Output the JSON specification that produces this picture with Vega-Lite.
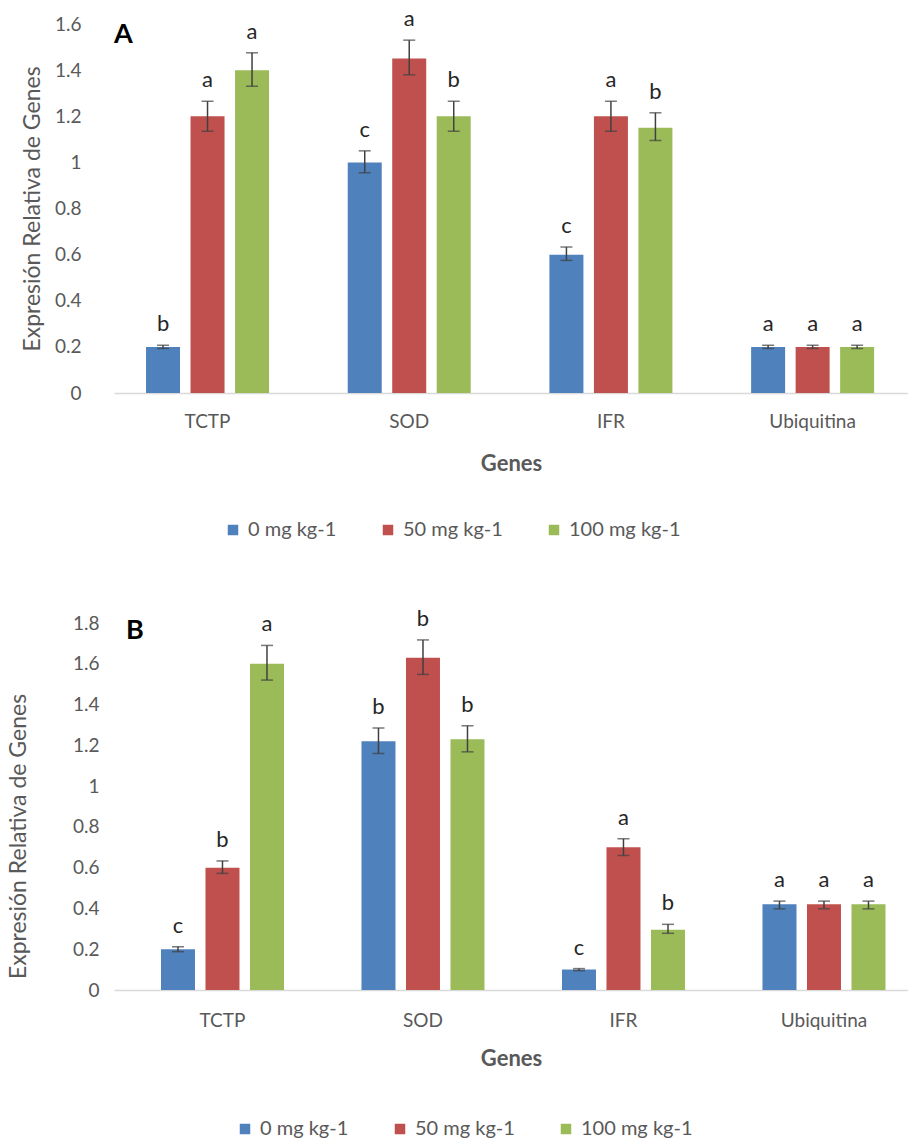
{
  "$schema": "https://vega.github.io/schema/vega-lite/v6.json",
  "padding": {"left": 7, "top": 8, "right": 0, "bottom": 0},
  "background": "white",
  "config": {
    "font": "Lato",
    "view": {"stroke": null},
    "axis": {"grid": false, "ticks": false, "tickSize": 0, "labelColor": "#595959", "titleColor": "#595959", "labelFont": "Lato", "titleFont": "Lato"},
    "title": {"font": "Lato", "color": "#000000", "fontWeight": "bold", "fontSize": 27, "anchor": "start", "frame": "group", "baseline": "alphabetic"}
  },
  "datasets": {
    "A": [
      {"gene": "TCTP", "dose": "0 mg kg-1", "value": 0.20, "lo": 0.193, "hi": 0.207, "letter": "b"},
      {"gene": "TCTP", "dose": "50 mg kg-1", "value": 1.20, "lo": 1.135, "hi": 1.265, "letter": "a"},
      {"gene": "TCTP", "dose": "100 mg kg-1", "value": 1.40, "lo": 1.33, "hi": 1.475, "letter": "a"},
      {"gene": "SOD", "dose": "0 mg kg-1", "value": 1.00, "lo": 0.955, "hi": 1.05, "letter": "c"},
      {"gene": "SOD", "dose": "50 mg kg-1", "value": 1.45, "lo": 1.38, "hi": 1.53, "letter": "a"},
      {"gene": "SOD", "dose": "100 mg kg-1", "value": 1.20, "lo": 1.135, "hi": 1.265, "letter": "b"},
      {"gene": "IFR", "dose": "0 mg kg-1", "value": 0.60, "lo": 0.575, "hi": 0.633, "letter": "c"},
      {"gene": "IFR", "dose": "50 mg kg-1", "value": 1.20, "lo": 1.135, "hi": 1.265, "letter": "a"},
      {"gene": "IFR", "dose": "100 mg kg-1", "value": 1.15, "lo": 1.095, "hi": 1.215, "letter": "b"},
      {"gene": "Ubiquitina", "dose": "0 mg kg-1", "value": 0.20, "lo": 0.193, "hi": 0.207, "letter": "a"},
      {"gene": "Ubiquitina", "dose": "50 mg kg-1", "value": 0.20, "lo": 0.193, "hi": 0.207, "letter": "a"},
      {"gene": "Ubiquitina", "dose": "100 mg kg-1", "value": 0.20, "lo": 0.193, "hi": 0.207, "letter": "a"}
    ],
    "B": [
      {"gene": "TCTP", "dose": "0 mg kg-1", "value": 0.20, "lo": 0.188, "hi": 0.212, "letter": "c"},
      {"gene": "TCTP", "dose": "50 mg kg-1", "value": 0.60, "lo": 0.572, "hi": 0.633, "letter": "b"},
      {"gene": "TCTP", "dose": "100 mg kg-1", "value": 1.60, "lo": 1.52, "hi": 1.69, "letter": "a"},
      {"gene": "SOD", "dose": "0 mg kg-1", "value": 1.22, "lo": 1.16, "hi": 1.285, "letter": "b"},
      {"gene": "SOD", "dose": "50 mg kg-1", "value": 1.63, "lo": 1.548, "hi": 1.717, "letter": "b"},
      {"gene": "SOD", "dose": "100 mg kg-1", "value": 1.23, "lo": 1.168, "hi": 1.296, "letter": "b"},
      {"gene": "IFR", "dose": "0 mg kg-1", "value": 0.10, "lo": 0.095, "hi": 0.105, "letter": "c"},
      {"gene": "IFR", "dose": "50 mg kg-1", "value": 0.70, "lo": 0.66, "hi": 0.742, "letter": "a"},
      {"gene": "IFR", "dose": "100 mg kg-1", "value": 0.295, "lo": 0.278, "hi": 0.322, "letter": "b"},
      {"gene": "Ubiquitina", "dose": "0 mg kg-1", "value": 0.42, "lo": 0.398, "hi": 0.436, "letter": "a"},
      {"gene": "Ubiquitina", "dose": "50 mg kg-1", "value": 0.42, "lo": 0.398, "hi": 0.436, "letter": "a"},
      {"gene": "Ubiquitina", "dose": "100 mg kg-1", "value": 0.42, "lo": 0.398, "hi": 0.436, "letter": "a"}
    ]
  },
  "columns": 1,
  "spacing": 67,
  "resolve": {"scale": {"color": "independent", "x": "independent", "y": "independent", "xOffset": "independent"}, "legend": {"color": "independent"}},
  "concat": [
    {
      "data": {"name": "A"},
      "width": 794,
      "height": 369,
      "title": {"text": "A", "offset": -41, "dx": 0},
      "encoding": {
        "x": {"field": "gene", "type": "nominal", "sort": ["TCTP", "SOD", "IFR", "Ubiquitina"], "title": "Genes",
              "scale": {"paddingInner": 0.3902, "paddingOuter": 0.1634, "align": 0.486},
              "axis": {"labelAngle": 0, "labelFontSize": 19, "labelPadding": 19, "titleFontSize": 22, "titleFontWeight": "bold", "titlePadding": 22, "domainColor": "#d9d9d9", "domainWidth": 1.5}},
        "xOffset": {"field": "dose", "type": "nominal", "sort": ["0 mg kg-1", "50 mg kg-1", "100 mg kg-1"], "scale": {"paddingInner": 0.236, "paddingOuter": 0}}
      },
      "layer": [
        {
          "mark": {"type": "bar"},
          "encoding": {
            "y": {"field": "value", "type": "quantitative", "title": "Expresión Relativa de Genes",
                  "scale": {"domain": [0, 1.6], "nice": false},
                  "axis": {"values": [0, 0.2, 0.4, 0.6, 0.8, 1, 1.2, 1.4, 1.6], "format": "~g", "domain": false, "labelFontSize": 19, "labelPadding": 33, "titleFontSize": 23, "titleFontWeight": "normal", "titlePadding": 10}},
            "color": {"field": "dose", "type": "nominal",
                      "scale": {"domain": ["0 mg kg-1", "50 mg kg-1", "100 mg kg-1"], "range": ["#4F81BD", "#C0504D", "#9BBB59"]},
                      "legend": {"orient": "none", "legendX": 109, "legendY": 496, "direction": "horizontal", "columns": 3, "title": null, "symbolType": "square", "symbolSize": 110, "symbolStrokeWidth": 0, "labelFontSize": 20, "labelColor": "#595959", "labelFont": "Lato", "columnPadding": 41, "labelOffset": 5}}
          }
        },
        {
          "mark": {"type": "rule", "color": "#404040", "strokeWidth": 1.5},
          "encoding": {"y": {"field": "lo", "type": "quantitative", "title": "Expresión Relativa de Genes"}, "y2": {"field": "hi"}}
        },
        {
          "mark": {"type": "tick", "color": "#404040", "size": 12, "thickness": 1.5},
          "encoding": {"y": {"field": "lo", "type": "quantitative", "title": "Expresión Relativa de Genes"}}
        },
        {
          "mark": {"type": "tick", "color": "#404040", "size": 12, "thickness": 1.5},
          "encoding": {"y": {"field": "hi", "type": "quantitative", "title": "Expresión Relativa de Genes"}}
        },
        {
          "mark": {"type": "text", "baseline": "alphabetic", "dy": -14, "fontSize": 22, "color": "#262626", "font": "Lato"},
          "encoding": {"y": {"field": "hi", "type": "quantitative", "title": "Expresión Relativa de Genes"}, "text": {"field": "letter"}}
        }
      ]
    },
    {
      "data": {"name": "B"},
      "width": 794,
      "height": 367,
      "title": {"text": "B", "offset": -37, "dx": 12},
      "encoding": {
        "x": {"field": "gene", "type": "nominal", "sort": ["TCTP", "SOD", "IFR", "Ubiquitina"], "title": "Genes",
              "scale": {"paddingInner": 0.3865, "paddingOuter": 0.1733, "align": 0.676},
              "axis": {"labelAngle": 0, "labelFontSize": 19, "labelPadding": 21, "titleFontSize": 22, "titleFontWeight": "bold", "titlePadding": 18, "domainColor": "#d9d9d9", "domainWidth": 1.5}},
        "xOffset": {"field": "dose", "type": "nominal", "sort": ["0 mg kg-1", "50 mg kg-1", "100 mg kg-1"], "scale": {"paddingInner": 0.236, "paddingOuter": 0}}
      },
      "layer": [
        {
          "mark": {"type": "bar"},
          "encoding": {
            "y": {"field": "value", "type": "quantitative", "title": "Expresión Relativa de Genes",
                  "scale": {"domain": [0, 1.8], "nice": false},
                  "axis": {"values": [0, 0.2, 0.4, 0.6, 0.8, 1, 1.2, 1.4, 1.6, 1.8], "format": "~g", "domain": false, "labelFontSize": 19, "labelPadding": 15, "titleFontSize": 23, "titleFontWeight": "normal", "titlePadding": 42, "titleY": 213}},
            "color": {"field": "dose", "type": "nominal",
                      "scale": {"domain": ["0 mg kg-1", "50 mg kg-1", "100 mg kg-1"], "range": ["#4F81BD", "#C0504D", "#9BBB59"]},
                      "legend": {"orient": "none", "legendX": 121, "legendY": 496, "direction": "horizontal", "columns": 3, "title": null, "symbolType": "square", "symbolSize": 110, "symbolStrokeWidth": 0, "labelFontSize": 20, "labelColor": "#595959", "labelFont": "Lato", "columnPadding": 41, "labelOffset": 5}}
          }
        },
        {
          "mark": {"type": "rule", "color": "#404040", "strokeWidth": 1.5},
          "encoding": {"y": {"field": "lo", "type": "quantitative", "title": "Expresión Relativa de Genes"}, "y2": {"field": "hi"}}
        },
        {
          "mark": {"type": "tick", "color": "#404040", "size": 12, "thickness": 1.5},
          "encoding": {"y": {"field": "lo", "type": "quantitative", "title": "Expresión Relativa de Genes"}}
        },
        {
          "mark": {"type": "tick", "color": "#404040", "size": 12, "thickness": 1.5},
          "encoding": {"y": {"field": "hi", "type": "quantitative", "title": "Expresión Relativa de Genes"}}
        },
        {
          "mark": {"type": "text", "baseline": "alphabetic", "dy": -14, "fontSize": 22, "color": "#262626", "font": "Lato"},
          "encoding": {"y": {"field": "hi", "type": "quantitative", "title": "Expresión Relativa de Genes"}, "text": {"field": "letter"}}
        }
      ]
    }
  ]
}
